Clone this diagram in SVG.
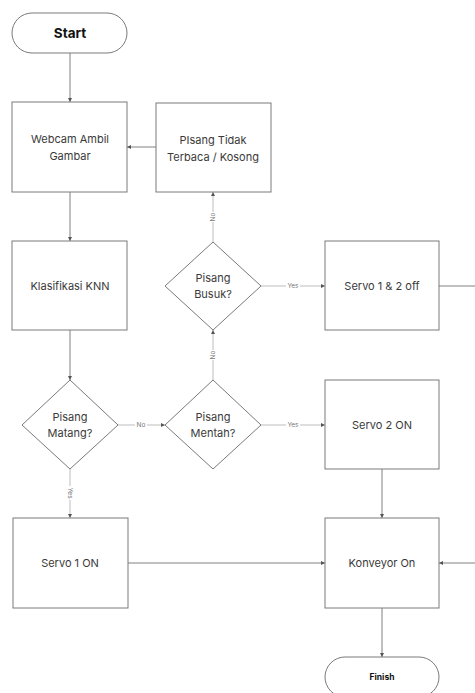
<svg xmlns="http://www.w3.org/2000/svg" width="475" height="693" viewBox="0 0 475 693">
<style>
.shape{fill:#fff;stroke:#7a7a7a;stroke-width:1}
.t{font-family:Inter,"Noto Sans",sans-serif;font-size:11px;fill:#3a3a3a;text-anchor:middle;dominant-baseline:central}
.b{font-weight:700;fill:#111}
.c{fill:none;stroke:#808080;stroke-width:1}
.cl{fill:none;stroke:#bdbdbd;stroke-width:1}
.lab{font-family:Inter,"Noto Sans",sans-serif;font-size:6.5px;fill:#777;text-anchor:middle;dominant-baseline:central}
.lb{fill:#fff}
</style>
<defs>
<marker id="arr" viewBox="0 0 6 6" refX="6" refY="3" markerWidth="4" markerHeight="4" orient="auto" markerUnits="userSpaceOnUse">
<path d="M0,0 L6,3 L0,6 z" fill="#555"/>
</marker>
</defs>
<rect width="475" height="693" fill="#fff"/>
<g id="connectors">
<path class="c" d="M70,53 V102" marker-end="url(#arr)"/>
<path class="c" d="M70,192 V241" marker-end="url(#arr)"/>
<path class="c" d="M70,330 V380" marker-end="url(#arr)"/>
<path class="cl" d="M70,469 V518" marker-end="url(#arr)"/>
<path class="cl" d="M118,425 H165" marker-end="url(#arr)"/>
<path class="cl" d="M213,380 V330" marker-end="url(#arr)"/>
<path class="cl" d="M261,425 H325" marker-end="url(#arr)"/>
<path class="cl" d="M213,242 V192" marker-end="url(#arr)"/>
<path class="cl" d="M261,286 H325" marker-end="url(#arr)"/>
<path class="c" d="M156,147 H127" marker-end="url(#arr)"/>
<path class="c" d="M382,469 V518" marker-end="url(#arr)"/>
<path class="c" d="M128,563 H325" marker-end="url(#arr)"/>
<path class="c" d="M382,608 V657" marker-end="url(#arr)"/>
<path class="c" d="M439,286 H490 V563 H439" marker-end="url(#arr)"/>
<g id="labels">
<rect class="lb" x="66" y="486" width="8" height="14"/>
<text class="lab" transform="translate(70,493) rotate(90)">Yes</text>
<rect class="lb" x="135" y="421" width="12" height="8"/>
<text class="lab" x="141" y="425">No</text>
<rect class="lb" x="209" y="350" width="8" height="10"/>
<text class="lab" transform="translate(213,355) rotate(-90)">No</text>
<rect class="lb" x="286" y="421" width="14" height="8"/>
<text class="lab" x="293" y="425">Yes</text>
<rect class="lb" x="209" y="212" width="8" height="10"/>
<text class="lab" transform="translate(213,217) rotate(-90)">No</text>
<rect class="lb" x="286" y="282" width="14" height="8"/>
<text class="lab" x="293" y="286">Yes</text>
</g>
</g>
<g id="start"><rect class="shape" x="12" y="13" width="115" height="40" rx="20"/><text class="t b" x="70" y="33" style="font-size:13.5px">Start</text></g>
<g id="webcam"><rect class="shape" x="12" y="102" width="115" height="90"/><text class="t" x="70" y="139">Webcam Ambil</text><text class="t" x="70" y="156">Gambar</text></g>
<g id="tidak"><rect class="shape" x="156" y="103" width="115" height="89"/><text class="t" x="213" y="140">PIsang Tidak</text><text class="t" x="213" y="157">Terbaca / Kosong</text></g>
<g id="knn"><rect class="shape" x="12" y="241" width="115" height="89"/><text class="t" x="70" y="286">Klasifikasi KNN</text></g>
<g id="busuk"><polygon class="shape" points="213,242 261,286 213,330 165,286"/><text class="t" x="213" y="278">Pisang</text><text class="t" x="213" y="294">Busuk?</text></g>
<g id="off"><rect class="shape" x="325" y="241" width="114" height="89"/><text class="t" x="382" y="286">Servo 1 &amp; 2 off</text></g>
<g id="matang"><polygon class="shape" points="70,380 118,425 70,469 22,425"/><text class="t" x="70" y="417">Pisang</text><text class="t" x="70" y="433">Matang?</text></g>
<g id="mentah"><polygon class="shape" points="213,380 261,425 213,469 165,425"/><text class="t" x="213" y="417">Pisang</text><text class="t" x="213" y="433">Mentah?</text></g>
<g id="servo2"><rect class="shape" x="325" y="380" width="114" height="89"/><text class="t" x="382" y="425">Servo 2 ON</text></g>
<g id="servo1"><rect class="shape" x="13" y="518" width="115" height="90"/><text class="t" x="70" y="563">Servo 1 ON</text></g>
<g id="konveyor"><rect class="shape" x="325" y="518" width="114" height="90"/><text class="t" x="382" y="563">Konveyor On</text></g>
<g id="finish"><rect class="shape" x="325" y="657" width="114" height="40" rx="20"/><text class="t b" x="382" y="677" style="font-size:8.5px">Finish</text></g>
</svg>
